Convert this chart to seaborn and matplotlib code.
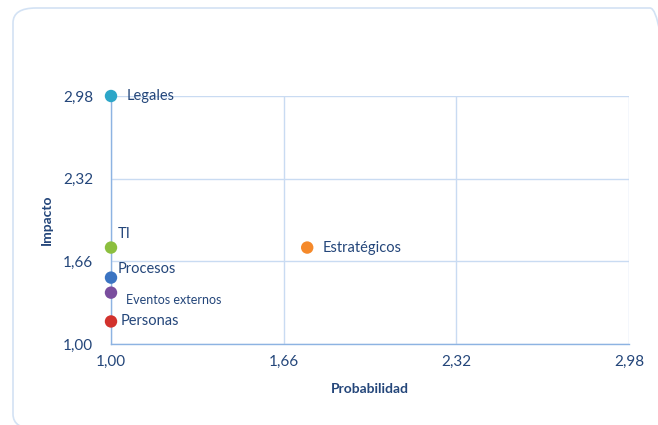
import matplotlib
matplotlib.use("Agg")
import matplotlib.pyplot as plt
from matplotlib.patches import FancyBboxPatch
import seaborn as sns
import pandas as pd

categorias = ["Legales", "Estratégicos", "TI", "Procesos", "Eventos externos", "Personas"]
probabilidad = [1.00, 1.75, 1.00, 1.00, 1.00, 1.00]
impacto = [2.98, 1.77, 1.77, 1.53, 1.41, 1.18]
colores = ["#2CA6C8", "#F5892A", "#8CBF3F", "#3B74C2", "#7A4E9E", "#D2322D"]
ticks = [1.00, 1.66, 2.32, 2.98]
tick_labels = ["1,00", "1,66", "2,32", "2,98"]

df = pd.DataFrame({"Riesgo": categorias, "Probabilidad": probabilidad, "Impacto": impacto})

sns.set_style("white")
plt.rcParams["font.family"] = ["Lato", "DejaVu Sans"]
texto = "#24467A"

fig = plt.figure(figsize=(6.58, 4.25), dpi=100)
# rounded frame around the chart area (runs past the right and bottom edges)
marco = FancyBboxPatch((13 / 658, -4 / 425), 660 / 658, 421 / 425,
                       boxstyle="round,pad=0,rounding_size=0.035",
                       transform=fig.transFigure, facecolor="none", edgecolor="#D3E2F4",
                       linewidth=1.2, zorder=-1)
fig.patches.append(marco)

ax = fig.add_axes([0.1687, 0.1906, 0.7872, 0.5835])
ax.set_facecolor("none")

sns.scatterplot(data=df, x="Probabilidad", y="Impacto", hue="Riesgo", palette=colores,
                s=80, edgecolor="none", legend=False, ax=ax, clip_on=False, zorder=5)

ax.set_xlim(1.0, 2.98)
ax.set_ylim(1.0, 2.98)
ax.set_xticks(ticks)
ax.set_xticklabels(tick_labels)
ax.set_yticks(ticks)
ax.set_yticklabels(tick_labels)
ax.grid(True, color="#C9DBF2", linewidth=1.0)
for lado in ["top", "right"]:
    ax.spines[lado].set_visible(False)
for lado in ["left", "bottom"]:
    ax.spines[lado].set_color("#8DB3E2")
    ax.spines[lado].set_linewidth(1.0)
ax.tick_params(axis="both", length=0, labelsize=11, colors=texto)
ax.tick_params(axis="y", pad=13)
ax.tick_params(axis="x", pad=8)

ax.set_xlabel("Probabilidad", fontsize=10, fontweight="bold", color=texto, labelpad=10)
ax.set_ylabel("Impacto", fontsize=10, fontweight="bold", color=texto, labelpad=7)

# point labels
offsets = {
    "Legales": (11, 0, 10.5, "left", "center"),
    "Estratégicos": (11, 0, 10.5, "left", "center"),
    "TI": (5, 5, 10.5, "left", "bottom"),
    "Procesos": (5, 6, 10.5, "left", "center"),
    "Eventos externos": (11, -5, 9, "left", "center"),
    "Personas": (7, 0, 10.5, "left", "center"),
}
for cat, xv, yv in zip(categorias, probabilidad, impacto):
    dx, dy, fs, ha, va = offsets[cat]
    ax.annotate(cat, (xv, yv), xytext=(dx, dy), textcoords="offset points",
                fontsize=fs, color=texto, ha=ha, va=va, zorder=6)

fig.savefig("out.png", dpi=100)
